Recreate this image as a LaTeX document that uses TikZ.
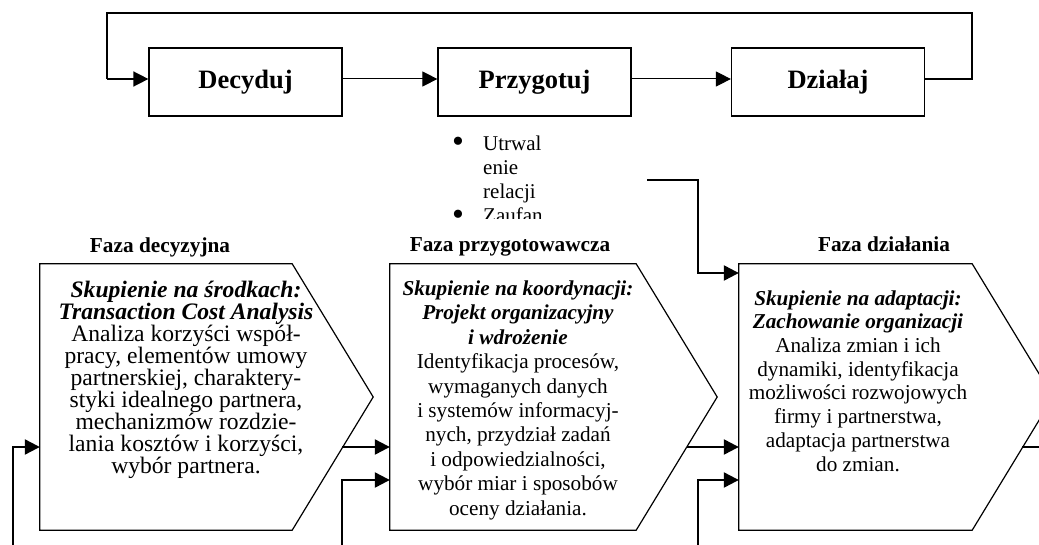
\documentclass[tikz,border=0pt]{standalone}
\usepackage{fontspec}
\setmainfont{Liberation Serif}
\usetikzlibrary{arrows.meta,calc}
\begin{document}
\begin{tikzpicture}[x=1pt,y=-1pt,
  topbox/.style={draw, line width=1.2pt, minimum width=193pt, minimum height=68pt, inner sep=0pt, font=\fontsize{26.5}{30}\selectfont\bfseries},
  pbody/.style={minimum width=#1, minimum height=266pt, inner sep=0pt},
  pent/.style={draw, line width=1.2pt, line join=miter},
  arrowhd/.style={-{Triangle[length=15pt,width=15pt]}},
  thinarrow/.style={line width=1pt, arrowhd},
  loopline/.style={line width=1.5pt},
  thickconn/.style={line width=2.3pt, arrowhd},
  thickline/.style={line width=2.3pt},
  phasetitle/.style={font=\fontsize{21.3}{24}\selectfont\bfseries, anchor=base, inner sep=0pt},
  ptext/.style={align=center, anchor=base, inner sep=0pt},
  bulletmark/.style={font=\fontsize{34}{24}\selectfont, anchor=base, inner sep=0pt},
]
\useasboundingbox (0,0) rectangle (1039,545);
\clip (0,0) rectangle (1039,545);

% top row
\node[topbox] (dec) at (245.5,82) {Decyduj};
\node[topbox] (prz) at (534.5,82) {Przygotuj};
\node[topbox] (dzi) at (828,82) {Działaj};
\coordinate (ay) at (0,79);
\coordinate (topy) at (0,13);
\coordinate (lx) at (107,0);
\coordinate (rx) at (972,0);
\draw[thinarrow] (dec.east |- ay) -- (prz.west |- ay);
\draw[thinarrow] (prz.east |- ay) -- (dzi.west |- ay);
\draw[loopline, line join=miter] (dzi.east |- ay) -- (rx |- ay) -- (rx |- topy) -- (lx |- topy) -- (lx |- ay);
\draw[loopline, arrowhd] (lx |- ay) -- (dec.west |- ay);

% bullet list (clipped)
\begin{scope}
\clip (440,120) rectangle (600,219);
\node[font=\fontsize{21}{24}\selectfont, anchor=base west, align=left, inner sep=0pt] (blist) at (483,223) {Utrwal\\enie\\relacji\\Zaufan};
\node[bulletmark] (b1) at (458,153) {\textbullet};
\node[bulletmark] (b2) at (458,226) {\textbullet};
\end{scope}

% phase titles
\node[phasetitle] (t1) at (160,253) {Faza decyzyjna};
\node[phasetitle] (t2) at (510,252) {Faza przygotowawcza};
\node[phasetitle] (t3) at (884,252) {Faza działania};

% pentagons
\node[pbody=252pt] (p1) at (166,397) {};
\node[pbody=246pt] (p2) at (513,397) {};
\node[pbody=233pt] (p3) at (855.5,397) {};
\foreach \p in {p1,p2,p3}{
  \draw[pent] (\p.north west) -- (\p.north east) -- ($(\p.east)+(81,0)$) -- (\p.south east) -- (\p.south west) -- cycle;
}

% texts (anchored at the baseline of the last line)
\node[ptext, font=\fontsize{23.6}{22}\selectfont] (x1) at (186,473) {%
\textbf{\textit{Skupienie na środkach:}}\\
\textbf{\textit{Transaction Cost Analysis}}\\
Analiza korzyści współ-\\
pracy, elementów umowy\\
partnerskiej, charaktery-\\
styki idealnego partnera,\\
mechanizmów rozdzie-\\
lania kosztów i korzyści,\\
wybór partnera.};
\node[ptext, font=\fontsize{21.2}{24.4}\selectfont] (x2) at (518,515) {%
\textbf{\textit{Skupienie na koordynacji:}}\\
\textbf{\textit{Projekt organizacyjny}}\\
\textbf{\textit{i wdrożenie}}\\
Identyfikacja procesów,\\
wymaganych danych\\
i systemów informacyj-\\
nych, przydział zadań\\
i odpowiedzialności,\\
wybór miar i sposobów\\
oceny działania.};
\node[ptext, font=\fontsize{21.2}{23.7}\selectfont] (x3) at (858,471) {%
\textbf{\textit{Skupienie na adaptacji:}}\\
\textbf{\textit{Zachowanie organizacji}}\\
Analiza zmian i ich\\
dynamiki, identyfikacja\\
możliwości rozwojowych\\
firmy i partnerstwa,\\
adaptacja partnerstwa\\
do zmian.};

% lower connectors
\coordinate (ya) at (0,447);
\coordinate (yb) at (0,480);
\coordinate (yc) at (0,273);
\coordinate (f1) at (13,550);
\coordinate (f2) at (342,550);
\coordinate (f3) at (698,550);
\coordinate (o1) at (342,447);
\coordinate (o2) at (687,447);
\coordinate (o3) at (1022,447);
\coordinate (e3) at (1045,447);
\coordinate (s6) at (647,180);
\coordinate (m6) at (698,180);
\draw[thickconn] (f1) |- (p1.west |- ya);
\draw[thickconn] (o1) -- (p2.west |- ya);
\draw[thickconn] (f2) |- (p2.west |- yb);
\draw[thickconn] (o2) -- (p3.west |- ya);
\draw[thickconn] (f3) |- (p3.west |- yb);
\draw[thickconn] (s6) -- (m6) |- (p3.west |- yc);
\draw[thickline] (o3) -- (e3);
\end{tikzpicture}
\end{document}
